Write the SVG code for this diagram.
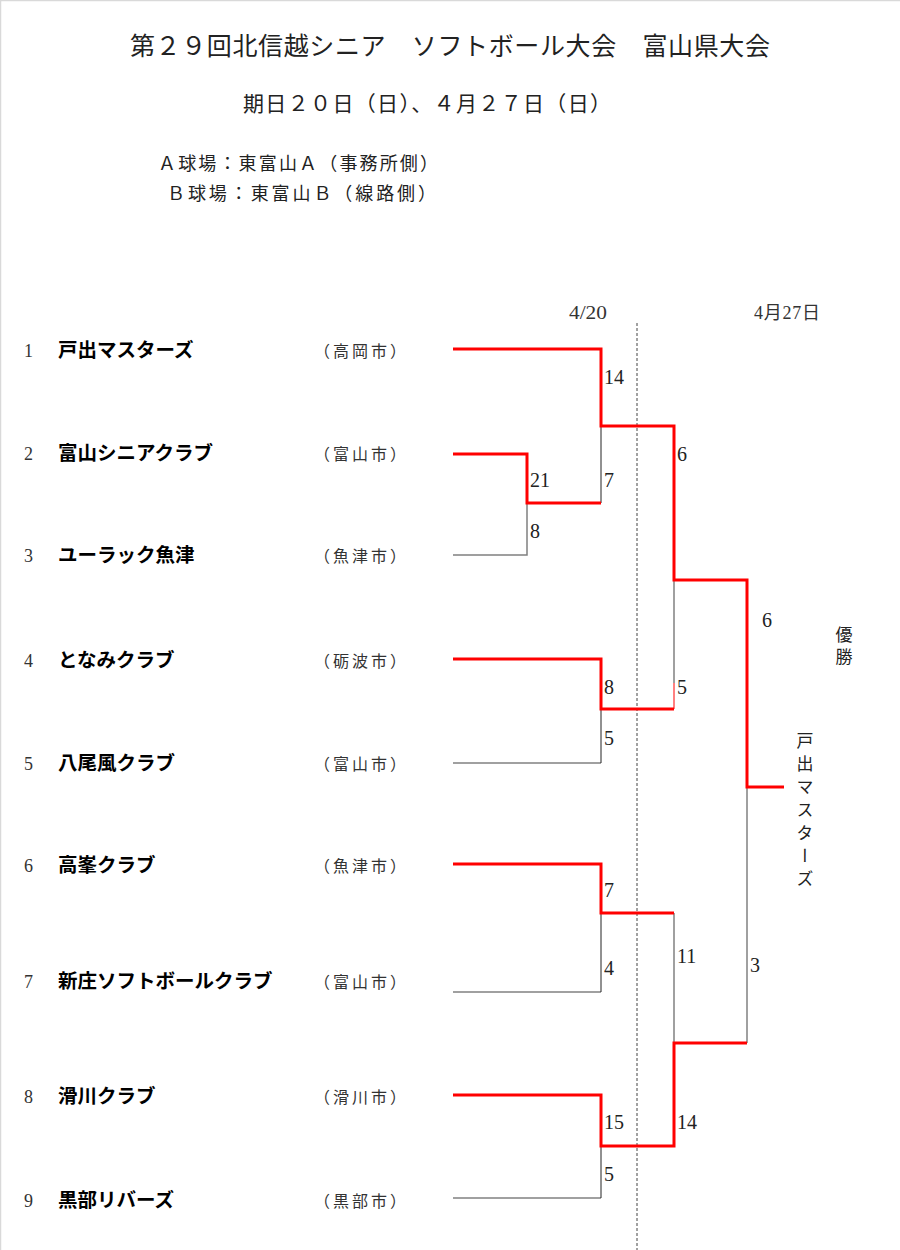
<svg xmlns="http://www.w3.org/2000/svg" width="900" height="1250" viewBox="0 0 900 1250">
<style>
.t{font-family:"Liberation Serif","Noto Sans CJK JP",serif;fill:#222}
.no{font-family:"Liberation Serif",serif;font-size:18px;fill:#333}
.nm{font-family:"Noto Sans CJK JP",sans-serif;font-size:19.5px;font-weight:bold;fill:#000}
.ct{font-family:"Noto Sans CJK JP",sans-serif;font-size:16px;fill:#333}
.sc{font-family:"Liberation Serif",serif;font-size:20px;fill:#222}
.dt{font-family:"Liberation Serif","Noto Sans CJK JP",serif;font-size:18px;fill:#333}
.win{fill:none;stroke:#ff0000;stroke-width:3}
.lose{fill:none;stroke:#808080;stroke-width:1.5}
.v{fill:none;stroke:#222;stroke-width:1}
.vt{font-family:"Noto Sans CJK JP",sans-serif;font-size:17px;fill:#222;writing-mode:vertical-rl}
</style>
<rect x="0.5" y="0.5" width="910" height="1260" fill="#fff" stroke="#d9d9d9" stroke-width="1.5"/>
<g id="header">
<text class="t" x="130" y="55" font-size="25" textLength="640" lengthAdjust="spacing">第２９回北信越シニア　ソフトボール大会　富山県大会</text>
<text class="t" x="243" y="111" font-size="21" textLength="368" lengthAdjust="spacing">期日２０日（日）、４月２７日（日）</text>
<text class="t" x="158" y="170" font-size="18" textLength="280" lengthAdjust="spacing">Ａ球場：東富山Ａ（事務所側）</text>
<text class="t" x="167" y="200" font-size="18" textLength="269" lengthAdjust="spacing">Ｂ球場：東富山Ｂ（線路側）</text>
<text class="dt" x="569" y="319" textLength="38" lengthAdjust="spacingAndGlyphs">4/20</text>
<text class="dt" x="754" y="319" textLength="66" lengthAdjust="spacing">4月27日</text>
</g>
<g id="team1"><text class="no" x="24" y="357">1</text><text class="nm" x="58" y="357">戸出マスターズ</text><text class="ct" x="314" y="357" textLength="92" lengthAdjust="spacing">（高岡市）</text></g>
<g id="team2"><text class="no" x="24" y="460">2</text><text class="nm" x="58" y="460">富山シニアクラブ</text><text class="ct" x="314" y="460" textLength="92" lengthAdjust="spacing">（富山市）</text></g>
<g id="team3"><text class="no" x="24" y="562">3</text><text class="nm" x="58" y="562">ユーラック魚津</text><text class="ct" x="314" y="562" textLength="92" lengthAdjust="spacing">（魚津市）</text></g>
<g id="team4"><text class="no" x="24" y="667">4</text><text class="nm" x="58" y="667">となみクラブ</text><text class="ct" x="314" y="667" textLength="92" lengthAdjust="spacing">（砺波市）</text></g>
<g id="team5"><text class="no" x="24" y="770">5</text><text class="nm" x="58" y="770">八尾風クラブ</text><text class="ct" x="314" y="770" textLength="92" lengthAdjust="spacing">（富山市）</text></g>
<g id="team6"><text class="no" x="24" y="872">6</text><text class="nm" x="58" y="872">高峯クラブ</text><text class="ct" x="314" y="872" textLength="92" lengthAdjust="spacing">（魚津市）</text></g>
<g id="team7"><text class="no" x="24" y="988">7</text><text class="nm" x="58" y="988">新庄ソフトボールクラブ</text><text class="ct" x="314" y="988" textLength="92" lengthAdjust="spacing">（富山市）</text></g>
<g id="team8"><text class="no" x="24" y="1103">8</text><text class="nm" x="58" y="1103">滑川クラブ</text><text class="ct" x="314" y="1103" textLength="92" lengthAdjust="spacing">（滑川市）</text></g>
<g id="team9"><text class="no" x="24" y="1207">9</text><text class="nm" x="58" y="1207">黒部リバーズ</text><text class="ct" x="314" y="1207" textLength="92" lengthAdjust="spacing">（黒部市）</text></g>
<g id="connectors">
<line x1="637" y1="323" x2="637" y2="1250" stroke="#444" stroke-width="1" stroke-dasharray="3,2"/>
<path class="lose" d="M453,555 H527 V503"/>
<path class="v" d="M601,426 V503"/>
<path class="lose" d="M453,763 H601"/>
<path class="v" d="M601,763 V709"/>
<path class="lose" d="M674,580 V683"/>
<path d="M674,683 V709" stroke="#ff8080" stroke-width="2" fill="none"/>
<path class="lose" d="M453,992 H601"/>
<path class="v" d="M601,992 V913"/>
<path class="lose" d="M674,913 V1043"/>
<path class="lose" d="M453,1198 H601"/>
<path class="v" d="M601,1198 V1146"/>
<path class="lose" d="M747,787 V1043"/>
<path class="win" d="M453,349 H601 V426 H674 V580 H747 V787 H784"/>
<path class="win" d="M453,454 H527 V503 H601"/>
<path class="win" d="M453,659 H601 V709 H674"/>
<path class="win" d="M453,864 H601 V913 H674"/>
<path class="win" d="M453,1095 H601 V1146 H674 V1043 H747"/>
</g>
<g id="scores">
<text class="sc" x="604" y="384">14</text>
<text class="sc" x="530" y="487">21</text>
<text class="sc" x="604" y="487">7</text>
<text class="sc" x="530" y="538">8</text>
<text class="sc" x="677" y="461">6</text>
<text class="sc" x="762" y="627" font-size="17">6</text>
<text class="sc" x="604" y="694">8</text>
<text class="sc" x="677" y="694">5</text>
<text class="sc" x="604" y="745">5</text>
<text class="sc" x="604" y="897">7</text>
<text class="sc" x="604" y="975">4</text>
<text class="sc" x="677" y="963">11</text>
<text class="sc" x="750" y="972" font-size="17">3</text>
<text class="sc" x="604" y="1129">15</text>
<text class="sc" x="677" y="1129">14</text>
<text class="sc" x="604" y="1181">5</text>
</g>
<g id="champion">
<text class="vt" x="844" y="626" letter-spacing="5">優勝</text>
<text class="vt" x="805" y="732" letter-spacing="6">戸出マスターズ</text>
</g>
</svg>
